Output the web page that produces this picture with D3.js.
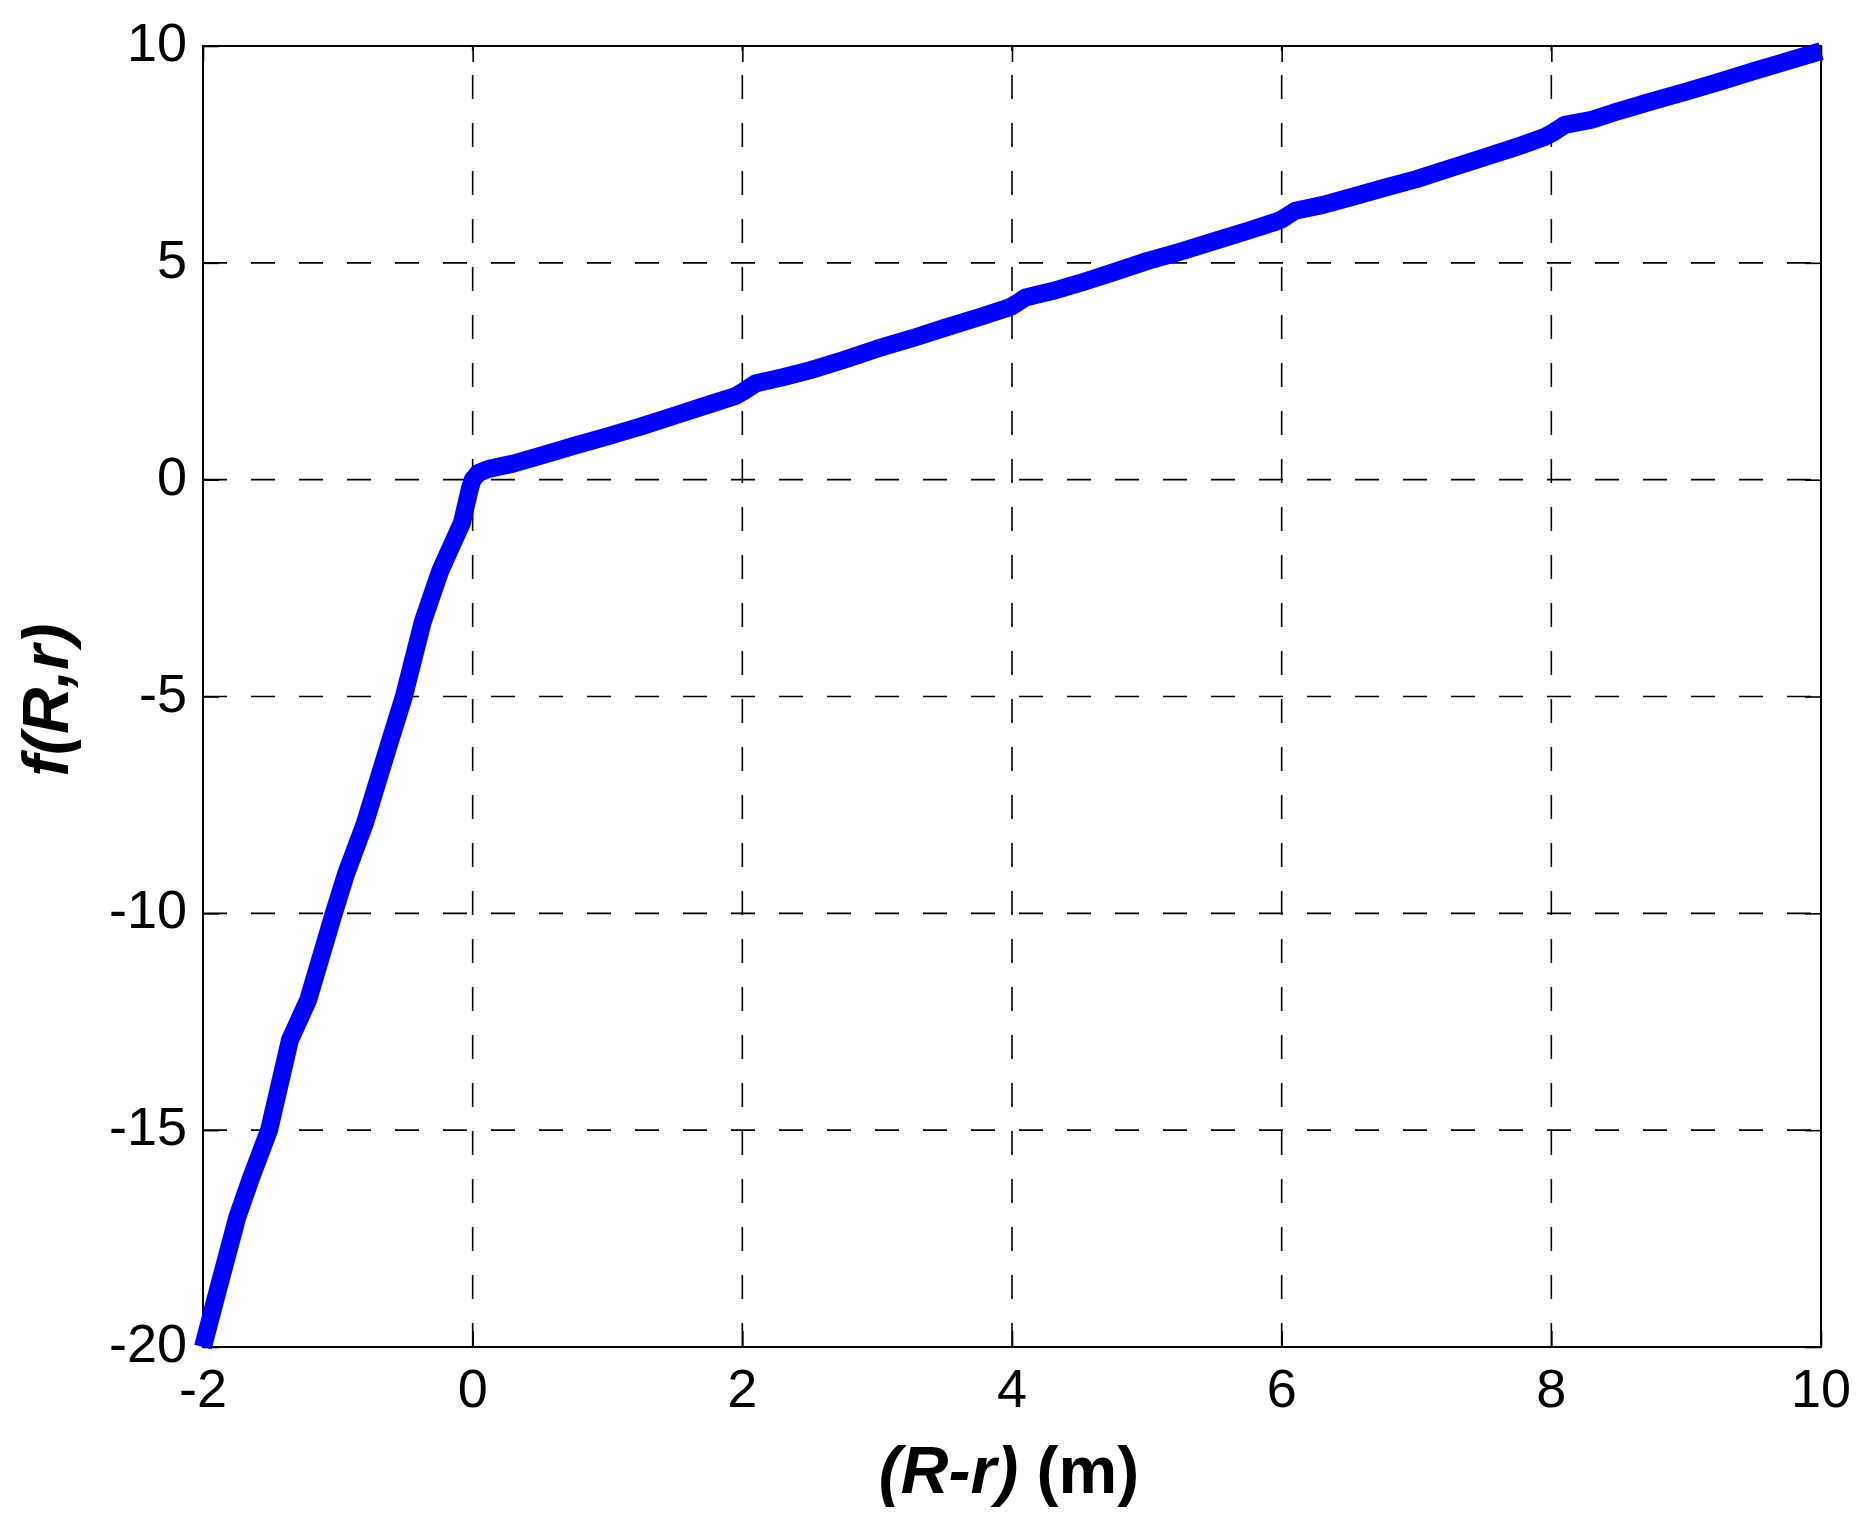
<!DOCTYPE html>
<html>
<head>
<meta charset="utf-8">
<script src="https://cdn.jsdelivr.net/npm/d3@7"></script>
<style>
  html, body { margin: 0; padding: 0; background: #ffffff; }
  svg { display: block; }
  text { font-family: "Liberation Sans", Arial, sans-serif; fill: #000; }
</style>
</head>
<body>
<svg id="chart" width="1866" height="1533"></svg>
<script>
// ---- data ----
const xValues = [-2, -1.91, -1.745, -1.64, -1.51, -1.355, -1.22, -1.03, -0.94, -0.8, -0.61, -0.51, -0.37, -0.24, -0.08, -0.02,
  0, 0.04, 0.12, 0.3, 0.5, 0.75, 1, 1.25, 1.5, 1.75, 1.95, 2.0, 2.1, 2.3, 2.5, 2.75, 3, 3.25, 3.5, 3.75, 3.95,
  4.0, 4.1, 4.3, 4.5, 4.75, 5, 5.25, 5.5, 5.75, 5.95, 6.0, 6.1, 6.3, 6.5, 6.75, 7, 7.25, 7.5, 7.75, 7.95,
  8.0, 8.1, 8.3, 8.5, 8.75, 9, 9.25, 9.5, 9.75, 10];
const fValues = [-20, -18.93, -17.0, -16.07, -15.0, -12.92, -12.0, -10.0, -9.1, -7.93, -6.0, -5.0, -3.28, -2.1, -1.0, -0.2,
  0, 0.15, 0.25, 0.37, 0.55, 0.78, 1.0, 1.23, 1.48, 1.73, 1.93, 2.02, 2.22, 2.36, 2.52, 2.76, 3.02, 3.25, 3.5, 3.74, 3.94,
  4.0, 4.2, 4.35, 4.53, 4.78, 5.04, 5.26, 5.5, 5.74, 5.94, 6.0, 6.2, 6.33, 6.5, 6.72, 6.93, 7.18, 7.43, 7.68, 7.9,
  7.98, 8.18, 8.3, 8.5, 8.73, 8.95, 9.18, 9.42, 9.65, 9.88];
const xTicks = [-2, 0, 2, 4, 6, 8, 10];
const yTicks = [-20, -15, -10, -5, 0, 5, 10];
const xLabelItalic = "(R-r)";
const xLabelRest = " (m)";
const yLabel = "f(R,r)";

// ---- layout ----
const L = 203, R = 1821, T = 46, B = 1347;
const svg = d3.select("#chart");

const x = d3.scaleLinear().domain([-2, 10]).range([L, R]);
const y = d3.scaleLinear().domain([-20, 10]).range([B, T]);

// grid lines (dashed)
const grid = svg.append("g");
xTicks.slice(1, -1).forEach(t => {
  grid.append("line")
    .attr("x1", x(t)).attr("x2", x(t))
    .attr("y1", B).attr("y2", T)
    .attr("stroke", "#000").attr("stroke-width", 1.6)
    .attr("stroke-dasharray", "24,24");
});
yTicks.slice(1, -1).forEach(t => {
  grid.append("line")
    .attr("x1", L).attr("x2", R)
    .attr("y1", y(t)).attr("y2", y(t))
    .attr("stroke", "#000").attr("stroke-width", 1.6)
    .attr("stroke-dasharray", "24,24");
});

// axes with inward ticks
const tickLen = 16;
const axB = d3.axisBottom(x).tickValues(xTicks).tickSizeInner(-tickLen).tickSizeOuter(0).tickFormat("");
const axT = d3.axisTop(x).tickValues(xTicks).tickSizeInner(-tickLen).tickSizeOuter(0).tickFormat("");
const axLft = d3.axisLeft(y).tickValues(yTicks).tickSizeInner(-tickLen).tickSizeOuter(0).tickFormat("");
const axRgt = d3.axisRight(y).tickValues(yTicks).tickSizeInner(-tickLen).tickSizeOuter(0).tickFormat("");
[[axB, `translate(0,${B})`], [axT, `translate(0,${T})`], [axLft, `translate(${L},0)`], [axRgt, `translate(${R},0)`]]
  .forEach(([ax, tr]) => {
    const g = svg.append("g").attr("transform", tr).call(ax);
    g.selectAll("line").attr("stroke", "#000").attr("stroke-width", 1.6);
    g.select(".domain").remove();
  });

// box
svg.append("rect")
  .attr("x", L).attr("y", T).attr("width", R - L).attr("height", B - T)
  .attr("fill", "none").attr("stroke", "#000").attr("stroke-width", 2);

// tick labels
svg.append("g").selectAll("text").data(xTicks).join("text")
  .attr("x", d => x(d)).attr("y", 1407)
  .attr("text-anchor", "middle").attr("font-size", 54)
  .text(d => String(d));
svg.append("g").selectAll("text").data(yTicks).join("text")
  .attr("x", 187).attr("y", d => y(d) + 15)
  .attr("text-anchor", "end").attr("font-size", 54)
  .text(d => String(d));

// axis titles
const xt = svg.append("text")
  .attr("x", 1009).attr("y", 1493)
  .attr("text-anchor", "middle").attr("font-size", 66).attr("font-weight", "bold");
xt.append("tspan").attr("font-style", "italic").text(xLabelItalic);
xt.append("tspan").text(xLabelRest);

svg.append("text")
  .attr("transform", "translate(68,700) rotate(-90)")
  .attr("text-anchor", "middle").attr("font-size", 64)
  .attr("font-weight", "bold").attr("font-style", "italic")
  .text(yLabel);

// data line
const pts = xValues.map((v, i) => [v, fValues[i]]);
const line = d3.line().x(d => x(d[0])).y(d => y(d[1]));
svg.append("path")
  .datum(pts)
  .attr("d", line)
  .attr("fill", "none")
  .attr("stroke", "#0000ff")
  .attr("stroke-width", 18)
  .attr("stroke-linejoin", "round")
  .attr("stroke-linecap", "butt");
</script>
</body>
</html>
